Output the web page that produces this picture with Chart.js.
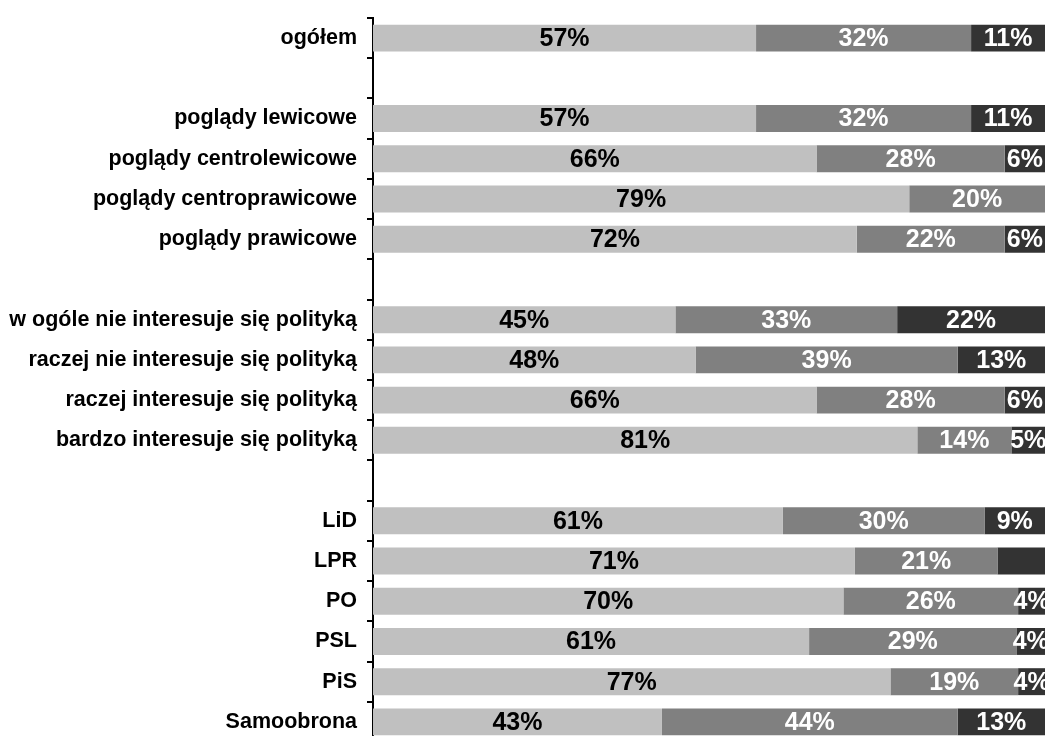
<!DOCTYPE html>
<html lang="pl">
<head>
    <meta charset="UTF-8">
    <title>Poglądy i zainteresowanie polityką</title>
    <script src="https://cdn.jsdelivr.net/npm/chart.js"></script>
    <style>
        html, body {
            margin: 0;
            padding: 0;
            overflow: hidden;
            background: #fff;
        }
    </style>
</head>
<body>
    <canvas id="barChart" width="1047" height="744"></canvas>

    <script>
        // Kategorie (puste etykiety = odstępy między grupami)
        const categories = [
            'ogółem', '',
            'poglądy lewicowe', 'poglądy centrolewicowe', 'poglądy centroprawicowe', 'poglądy prawicowe', '',
            'w ogóle nie interesuje się polityką', 'raczej nie interesuje się polityką',
            'raczej interesuje się polityką', 'bardzo interesuje się polityką', '',
            'LiD', 'LPR', 'PO', 'PSL', 'PiS', 'Samoobrona'
        ];

        // Wartości w procentach
        const lightValues = [57, null, 57, 66, 79, 72, null, 45, 48, 66, 81, null, 61, 71, 70, 61, 77, 43];
        const midValues   = [32, null, 32, 28, 20, 22, null, 33, 39, 28, 14, null, 30, 21, 26, 29, 19, 44];
        const darkValues  = [11, null, 11, 6, 0, 6, null, 22, 13, 6, 5, null, 9, 7, 4, 4, 4, 13];

        // Etykiety, których nie ma na wykresie (indeks serii, indeks kategorii)
        const hiddenLabels = [[2, 13]];

        const raw = [lightValues, midValues, darkValues];
        const colors = ['#c0c0c0', '#808080', '#333333'];
        const textColors = ['#000000', '#ffffff', '#ffffff'];

        // Wykres 100% skumulowany - normalizacja do sumy w wierszu
        function shares(series) {
            return series.map((v, j) => {
                if (v === null) return null;
                const sum = raw.reduce((s, arr) => s + (arr[j] || 0), 0);
                return v / sum * 100;
            });
        }

        const valueLabels = {
            id: 'valueLabels',
            afterDatasetsDraw(chart) {
                const ctx = chart.ctx;
                ctx.save();
                ctx.font = 'bold 25px "Liberation Sans", Arial, sans-serif';
                ctx.textAlign = 'center';
                ctx.textBaseline = 'middle';
                chart.data.datasets.forEach((ds, i) => {
                    const meta = chart.getDatasetMeta(i);
                    meta.data.forEach((bar, j) => {
                        const v = raw[i][j];
                        if (!v) return;
                        if (hiddenLabels.some(h => h[0] === i && h[1] === j)) return;
                        ctx.fillStyle = textColors[i];
                        ctx.fillText(v + '%', (bar.x + bar.base) / 2, bar.y + 1);
                    });
                });
                ctx.restore();
            }
        };

        const ctxBar = document.getElementById('barChart').getContext('2d');
        const barChart = new Chart(ctxBar, {
            type: 'bar',
            data: {
                labels: categories,
                datasets: raw.map((series, i) => ({
                    data: shares(series),
                    backgroundColor: colors[i],
                    borderWidth: 0,
                    barPercentage: 0.67,
                    categoryPercentage: 1
                }))
            },
            options: {
                indexAxis: 'y',
                responsive: false,
                animation: false,
                layout: {
                    padding: { top: 18, right: 2, bottom: 2, left: 0 }
                },
                plugins: {
                    legend: { display: false },
                    tooltip: { enabled: false }
                },
                scales: {
                    x: {
                        stacked: true,
                        min: 0,
                        max: 100,
                        display: false
                    },
                    y: {
                        stacked: true,
                        afterFit(scale) {
                            scale.width = 373;
                            scale.paddingTop = 0;
                            scale.paddingBottom = 0;
                        },
                        grid: {
                            offset: true,
                            drawOnChartArea: false,
                            color: '#000000',
                            lineWidth: 2,
                            tickLength: 6
                        },
                        border: {
                            color: '#000000',
                            width: 2
                        },
                        ticks: {
                            color: '#000000',
                            padding: 10,
                            autoSkip: false,
                            font: {
                                family: '"Liberation Sans", Arial, sans-serif',
                                size: 21.5,
                                weight: 'bold'
                            }
                        }
                    }
                }
            },
            plugins: [valueLabels]
        });
    </script>
</body>
</html>
